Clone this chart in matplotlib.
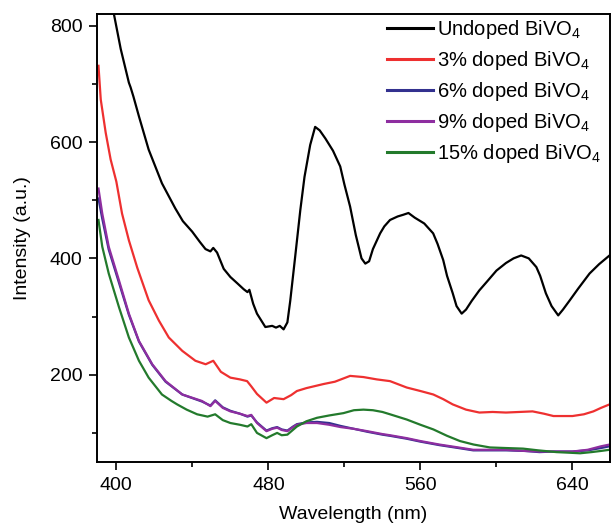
import matplotlib
matplotlib.use('Agg')
import matplotlib.pyplot as plt
from matplotlib.ticker import MultipleLocator

plt.rcParams['font.family'] = ['Liberation Sans', 'DejaVu Sans']
plt.rcParams['mathtext.fontset'] = 'custom'
plt.rcParams['mathtext.rm'] = 'Liberation Sans'

# values
wl_undoped = [391, 395, 398.6, 402.3, 406.6, 407.5, 409, 411.9, 417, 424, 431, 435, 439.9, 444,
              446.9, 449.5, 451, 453, 456.5, 460, 463.7, 467, 469, 470, 472, 474, 478.4, 482, 484,
              486, 488, 490, 491.5, 494, 496.8, 499, 502, 504.6, 507, 510, 514, 517.8, 520, 523,
              526, 529, 531, 533, 535, 538.8, 541, 544, 548, 551, 553.7, 557, 562, 566.7, 569,
              572, 574, 577, 579, 581.7, 584, 587, 591, 595, 600, 605, 609, 613, 617, 621, 623,
              626, 629, 632.5, 635, 638.6, 643, 649, 654, 659.5]
I_undoped = [930, 875, 822, 760, 702, 694, 678, 644, 587, 529, 486, 464, 446, 428,
             416, 412, 418, 410, 382, 368, 357, 347, 342, 346, 322, 305, 282, 284, 281,
             284, 278, 290, 327, 400, 483, 540, 595, 626, 620, 606, 585, 558, 527, 489,
             440, 400, 391, 395, 416, 443, 455, 466, 472, 475, 478, 470, 460, 443, 425,
             397, 370, 340, 318, 305, 312, 327, 345, 360, 379, 392, 400, 405, 400, 385, 370,
             340, 318, 302, 312, 328, 348, 374, 390, 405]

wl_3 = [390.6, 391.8, 394.4, 397, 400, 403, 406.6, 411, 417, 422.4, 427.6, 434.7, 441.6, 447,
        451, 455, 460, 465, 468.8, 471, 474, 479, 483, 488, 492, 495, 500, 509, 515, 523, 530,
        537, 544, 552.8, 560, 566.8, 572, 577, 584, 591, 598, 605, 612, 619, 625, 630, 640,
        646, 651, 655, 659.5]
I_3 = [731, 673, 616, 570, 532, 477, 431, 384, 328, 293, 264, 241, 224, 218,
       224, 205, 195, 192, 189, 180, 167, 152, 160, 158, 165, 172, 177, 184, 188, 198, 196,
       192, 189, 178, 172, 166, 158, 149, 140, 135, 136, 135, 136, 137, 133, 129, 129,
       132, 137, 143, 149]

wl_low = [390.6, 392.6, 396, 401.4, 406.6, 411.9, 418.9, 425.9, 434.7, 445, 449.5, 452, 456,
          460, 465, 469, 471, 474, 479, 482, 484.6, 487, 490, 493, 495, 500, 505.6, 512, 518,
          525, 532, 540, 544, 552.8, 560, 570, 580, 587.8, 595, 605, 615, 622.7, 630, 640,
          648, 655, 659.5]
I_6 = [503, 468, 415, 358, 303, 257, 217, 188, 166, 154, 147, 156, 144,
       138, 133, 128, 130, 118, 104, 108, 110, 106, 104, 111, 115, 118, 119, 117, 112,
       107, 102, 97, 95, 90, 85, 79, 74, 70, 70, 70, 69, 67, 68, 68,
       70, 74, 77]
I_9 = [520, 477, 420, 362, 305, 258, 218, 189, 166, 155, 146, 155, 143,
       137, 133, 129, 131, 117, 103, 107, 109, 105, 103, 110, 114, 117, 117, 114, 110,
       107, 103, 98, 96, 91, 86, 80, 75, 71, 71, 71, 69, 68, 68, 68,
       71, 77, 80]

wl_15 = [390.6, 392.6, 396, 401.4, 406.6, 411.9, 417, 424, 429, 432, 437, 442.5, 448, 452,
         456, 460, 465, 469, 471, 474, 479, 482, 484.6, 487, 490, 495, 500, 505.6, 512, 519.5,
         525, 530, 535, 540, 544, 552.8, 560, 566.8, 574, 580.8, 588, 596.6, 605, 614, 622,
         631.6, 638, 644, 650, 655, 659.5]
I_15 = [466, 420, 374, 316, 264, 224, 195, 166, 155, 149, 140, 132, 128, 132,
        122, 117, 114, 111, 115, 100, 91, 96, 100, 96, 97, 111, 120, 126, 130, 134,
        139, 140, 139, 136, 132, 123, 114, 106, 95, 86, 80, 75, 74, 73, 70,
        67, 66, 65, 67, 69, 71]

series = [
    (wl_undoped, I_undoped, 'black', r'Undoped BiVO$_4$'),
    (wl_3, I_3, '#ee3030', r'3% doped BiVO$_4$'),
    (wl_low, I_6, '#33318f', r'6% doped BiVO$_4$'),
    (wl_low, I_9, '#8e2ea0', r'9% doped BiVO$_4$'),
    (wl_15, I_15, '#237a2c', r'15% doped BiVO$_4$'),
]

fig = plt.figure(figsize=(6.11, 5.25), dpi=100)
ax = fig.add_axes([0.1593, 0.12, 0.8383, 0.8533])

for x, y, c, lab in series:
    ax.plot(x, y, color=c, lw=1.6, label=lab)

ax.set_xlim(390, 659.5)
ax.set_ylim(50, 820)
ax.xaxis.set_major_locator(MultipleLocator(80))
ax.xaxis.set_minor_locator(MultipleLocator(40))
ax.yaxis.set_major_locator(MultipleLocator(200))
ax.yaxis.set_minor_locator(MultipleLocator(100))
ax.tick_params(which='major', direction='out', length=5.5, width=1.2, labelsize=14, pad=5)
ax.tick_params(which='minor', direction='out', length=3.5, width=1.2)
ax.tick_params(top=False, right=False)
for s in ax.spines.values():
    s.set_linewidth(1.4)

ax.set_xlabel('Wavelength (nm)', fontsize=14, labelpad=9)
ax.set_ylabel('Intensity (a.u.)', fontsize=14, labelpad=14)

leg = ax.legend(loc='upper right', frameon=False, fontsize=14.5, handlelength=2.3,
                handletextpad=0.2, labelspacing=0.4, borderaxespad=0.0,
                bbox_to_anchor=(1.0, 1.01))
for h in leg.get_lines():
    h.set_linewidth(2.2)

fig.savefig('out.png', dpi=100)
